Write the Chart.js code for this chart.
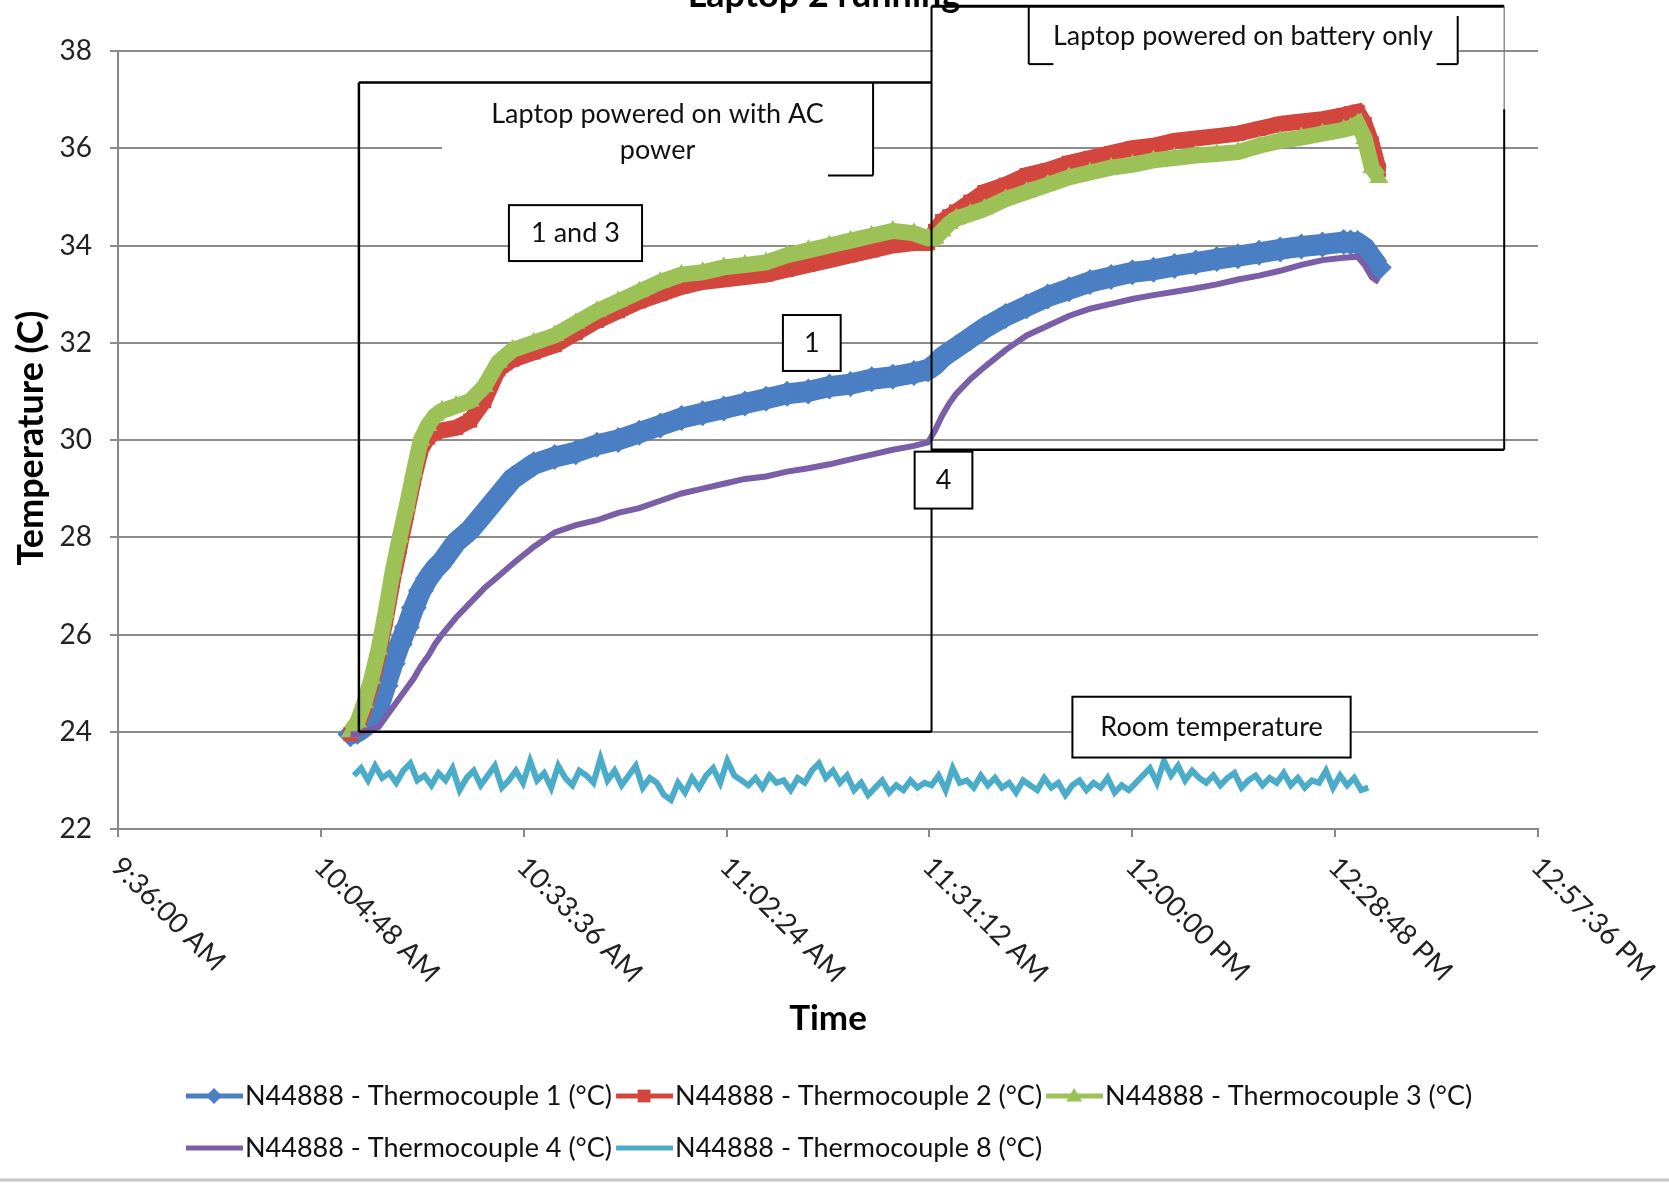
<!DOCTYPE html>
<html lang="en">
  <head>
    <meta charset="UTF-8" />
    <title>Laptop 2 running</title>
    <script src="https://cdn.jsdelivr.net/npm/chart.js"></script>
    <style>
      html, body { margin: 0; padding: 0; background: #ffffff; }
    </style>
  </head>
  <body>
    <canvas id="tempChart" width="1669" height="1185"></canvas>

    <script>
      // sample times, minutes after midnight (thermocouples 1-4)
      const times = [
        609, 610, 611, 612, 613, 614, 615, 616, 617, 618, 619, 620, 621, 622,
        624, 626, 628, 630, 632, 635, 638, 641, 644, 647, 650, 653, 656, 659,
        662, 665, 668, 671, 674, 677, 680, 683, 686, 689, 691, 692, 693, 694,
        695, 697, 699, 702, 705, 708, 711, 714, 717, 720, 723, 726, 729, 732,
        735, 738, 741, 744, 747, 750, 751, 752, 753, 754, 755
      ];

      const tc1 = [
        23.95, 24.0, 24.1, 24.3, 24.5, 24.95, 25.4, 25.8, 26.15, 26.55, 26.9, 27.15, 27.35, 27.5,
        27.9, 28.15, 28.5, 28.85, 29.2, 29.5, 29.65, 29.75, 29.9, 30.0, 30.15, 30.3, 30.45, 30.55,
        30.65, 30.75, 30.85, 30.95, 31.0, 31.1, 31.15, 31.25, 31.3, 31.38, 31.45, 31.55, 31.7, 31.8,
        31.9, 32.1, 32.3, 32.55, 32.75, 32.95, 33.1, 33.25, 33.35, 33.45, 33.5, 33.58, 33.65, 33.72,
        33.78, 33.85, 33.92, 33.98, 34.02, 34.07, 34.06, 34.05, 33.95, 33.75, 33.55
      ];

      const tc2 = [
        23.95, 24.1, 24.5, 25.0, 25.6, 26.3, 27.1, 27.8, 28.5, 29.2, 29.8, 30.05, 30.15, 30.2,
        30.25, 30.4, 30.8, 31.45, 31.65, 31.8, 31.95, 32.2, 32.45, 32.65, 32.85, 33.0, 33.15, 33.25,
        33.3, 33.35, 33.4, 33.5, 33.6, 33.7, 33.8, 33.9, 34.0, 34.05, 34.05, 34.3, 34.5, 34.6,
        34.7, 34.9, 35.1, 35.25, 35.45, 35.55, 35.7, 35.8, 35.9, 36.0, 36.05, 36.15, 36.2, 36.25,
        36.3, 36.4, 36.5, 36.55, 36.6, 36.68, 36.72, 36.75, 36.5, 36.1, 35.55
      ];

      const tc3 = [
        24.0, 24.2, 24.6, 25.1, 25.7, 26.45, 27.3, 28.0, 28.65, 29.35, 30.0, 30.3, 30.5, 30.6,
        30.7, 30.8, 31.1, 31.6, 31.85, 32.0, 32.15, 32.4, 32.65, 32.85, 33.05, 33.25, 33.4, 33.45,
        33.55, 33.6, 33.65, 33.8, 33.9, 34.0, 34.1, 34.2, 34.3, 34.25, 34.15, 34.15, 34.3, 34.45,
        34.55, 34.65, 34.75, 34.95, 35.1, 35.25, 35.4, 35.5, 35.6, 35.66, 35.75, 35.8, 35.85, 35.88,
        35.92, 36.05, 36.15, 36.22, 36.3, 36.38, 36.42, 36.5, 36.2, 35.6, 35.4
      ];

      const tc4 = [
        23.95, 23.95, 24.0, 24.05, 24.1, 24.3, 24.5, 24.7, 24.9, 25.1, 25.35, 25.55, 25.8, 26.0,
        26.35, 26.65, 26.95, 27.2, 27.45, 27.8, 28.1, 28.25, 28.35, 28.5, 28.6, 28.75, 28.9, 29.0,
        29.1, 29.2, 29.25, 29.35, 29.42, 29.5, 29.6, 29.7, 29.8, 29.88, 29.95, 30.2, 30.5, 30.75,
        30.95, 31.25, 31.5, 31.85, 32.15, 32.35, 32.55, 32.7, 32.8, 32.9, 32.98, 33.05, 33.12, 33.2,
        33.3, 33.38, 33.48, 33.6, 33.7, 33.75, 33.76, 33.77, 33.6, 33.35, 33.25
      ];

      // room temperature logger, one reading a minute from 10:09:30
      const roomStart = 609.5;
      const roomStep = 1;
      const tc8 = [
        23.1, 23.25, 23.0, 23.3, 23.05, 23.15, 22.95, 23.2, 23.35, 23.0, 23.1,
        22.9, 23.15, 23.0, 23.25, 22.8, 23.05, 23.2, 22.9, 23.1, 23.3, 22.85, 23.0,
        23.2, 22.95, 23.4, 23.0, 23.15, 22.85, 23.3, 23.05, 22.9, 23.2, 23.1, 22.95,
        23.45, 23.0, 23.2, 22.9, 23.1, 23.3, 22.85, 23.05, 22.95,
        22.7, 22.6, 22.95, 22.75, 23.05, 22.85,
        23.1, 23.25, 22.95, 23.4, 23.1, 23.0,
        22.9, 23.05, 22.85, 23.1, 22.95, 23.0, 22.8, 23.05, 22.95,
        23.2, 23.35, 23.05, 23.2, 22.95, 23.1,
        22.8, 22.95, 22.7, 22.85, 23.0, 22.75, 22.9, 22.8, 23.0, 22.85, 22.95,
        22.9, 23.1, 22.8, 23.25, 22.95, 23.0, 22.85, 23.1, 22.9, 23.05,
        22.85, 22.95, 22.75, 23.0, 22.9, 22.8, 23.05, 22.85, 22.95, 22.7, 22.9, 23.0, 22.8, 22.95, 22.85, 23.05, 22.75, 22.9, 22.8,
        22.95, 23.1, 23.25, 22.95, 23.4, 23.1, 23.3, 23.0, 23.2, 23.05,
        22.95, 23.1, 22.9, 23.05, 23.15, 22.85, 23.0, 23.1, 22.9, 23.05, 22.95, 23.15,
        22.9, 23.05, 22.85, 23.0, 22.95, 23.2, 22.85, 23.1, 22.9, 23.05, 22.8, 22.85
      ];

      const seriesNames = [
        "N44888 - Thermocouple 1 (°C)",
        "N44888 - Thermocouple 2 (°C)",
        "N44888 - Thermocouple 3 (°C)",
        "N44888 - Thermocouple 4 (°C)",
        "N44888 - Thermocouple 8 (°C)"
      ];

      // axis ranges (x in minutes after midnight)
      const xMin = 576;      // 9:36:00 AM
      const xMax = 777.6;    // 12:57:36 PM
      const xStep = 28.8;
      const yMin = 22;
      const yMax = 38;
      const yStep = 2;

      const colors = {
        tc1: "#4a7fc4",
        tc2: "#d3463e",
        tc3: "#9cc257",
        tc4: "#7a5fa8",
        tc8: "#4aacc8",
      };

      const FONT = "Lato, 'Open Sans', sans-serif";

      function clock(sec) {
        sec = Math.round(sec);
        const h = Math.floor(sec / 3600);
        const m = Math.floor((sec % 3600) / 60);
        const s = sec % 60;
        const ap = h >= 12 ? "PM" : "AM";
        const h12 = h % 12 === 0 ? 12 : h % 12;
        return h12 + ":" + String(m).padStart(2, "0") + ":" + String(s).padStart(2, "0") + " " + ap;
      }

      const toPoints = (vals) => vals.map((v, i) => ({ x: times[i] * 60, y: v }));
      const roomPoints = tc8.map((v, i) => ({ x: (roomStart + i * roomStep) * 60, y: v }));

      function drawMarker(ctx, style, cx, cy, r, color) {
        ctx.fillStyle = color;
        ctx.beginPath();
        if (style === "rectRot") {
          ctx.moveTo(cx, cy - r);
          ctx.lineTo(cx + r, cy);
          ctx.lineTo(cx, cy + r);
          ctx.lineTo(cx - r, cy);
        } else if (style === "rect") {
          ctx.rect(cx - r * 0.8, cy - r * 0.8, r * 1.6, r * 1.6);
        } else if (style === "triangle") {
          ctx.moveTo(cx, cy - r);
          ctx.lineTo(cx + r, cy + r * 0.7);
          ctx.lineTo(cx - r, cy + r * 0.7);
        }
        ctx.closePath();
        ctx.fill();
      }

      // boxes, labels, slanted time labels, legend
      const decorPlugin = {
        id: "decor",
        afterDraw(chart) {
          const { ctx, scales } = chart;
          const px = (min) => scales.x.getPixelForValue(min * 60);
          const py = (t) => scales.y.getPixelForValue(t);
          ctx.save();

          const line = (x1, y1, x2, y2, w, c) => {
            ctx.strokeStyle = c || "#000";
            ctx.lineWidth = w;
            ctx.beginPath();
            ctx.moveTo(x1, y1);
            ctx.lineTo(x2, y2);
            ctx.stroke();
          };
          const text = (str, x, y, font) => {
            ctx.font = font || "27px " + FONT;
            ctx.fillStyle = "#111";
            ctx.textAlign = "center";
            ctx.textBaseline = "middle";
            ctx.fillText(str, x, y);
          };
          const labelBox = (m1, m2, t1, t2, str) => {
            const x1 = px(m1), x2 = px(m2), y1 = py(t1), y2 = py(t2);
            ctx.fillStyle = "#fff";
            ctx.fillRect(x1, y1, x2 - x1, y2 - y1);
            ctx.strokeStyle = "#000";
            ctx.lineWidth = 2;
            ctx.strokeRect(x1, y1, x2 - x1, y2 - y1);
            text(str, (x1 + x2) / 2, (y1 + y2) / 2);
          };

          // AC power period
          const acL = px(610.2), acR = px(691.5), acT = py(37.35), acB = py(24);
          ctx.fillStyle = "#fff";
          ctx.fillRect(px(622), acT + 1, px(683.2) - px(622), py(35.44) - acT);
          line(acL, acT, acR, acT, 2.5);
          line(acL, acT, acL, acB, 2.5);
          line(acL, acB, acR, acB, 2.5);
          line(px(683.2), acT, px(683.2), py(35.44), 2);
          line(px(676.8), py(35.44), px(683.2), py(35.44), 2);
          text("Laptop powered on with AC", px(652.6), py(36.7));
          text("power", px(652.6), py(35.95));

          // battery period
          const bL = px(691.5), bR = px(772.8), bT = py(38.92), bB = py(29.8);
          ctx.fillStyle = "#fff";
          ctx.fillRect(bL + 1, bT + 2, px(766.2) - bL, py(37.73) - bT);
          line(bL, bT, bR, bT, 3);
          line(bL, bT, bL, acB, 2);
          line(bR, bT, bR, py(36.8), 1.2, "#777");
          line(bR, py(36.8), bR, bB, 2);
          line(bL, bB, bR, bB, 2.5);
          line(px(705.3), py(38.9), px(705.3), py(37.73), 2);
          line(px(705.3), py(37.73), px(708.8), py(37.73), 2);
          line(px(763.2), py(37.73), px(766.2), py(37.73), 2);
          line(px(766.2), py(38.72), px(766.2), py(37.73), 2);
          text("Laptop powered on battery only", px(735.7), py(38.31));

          labelBox(631.5, 650.4, 34.83, 33.68, "1 and 3");
          labelBox(670.4, 678.6, 32.57, 31.42, "1");
          labelBox(689.1, 697.3, 29.76, 28.59, "4");
          labelBox(711.5, 751.0, 24.72, 23.47, "Room temperature");

          // title, mostly off the top edge
          ctx.font = "bold 36px " + FONT;
          ctx.fillStyle = "#000";
          ctx.textAlign = "center";
          ctx.textBaseline = "alphabetic";
          ctx.fillText("Laptop 2 running", 824, 7);

          // slanted time labels
          ctx.font = "28px " + FONT;
          ctx.fillStyle = "#222";
          ctx.textAlign = "left";
          ctx.textBaseline = "middle";
          scales.x.ticks.forEach((tk) => {
            const tx = scales.x.getPixelForValue(tk.value);
            ctx.save();
            ctx.translate(tx - 2, 862);
            ctx.rotate(Math.PI / 4);
            ctx.fillText(clock(tk.value), 0, 0);
            ctx.restore();
          });

          // axis titles
          ctx.font = "bold 36px " + FONT;
          ctx.fillStyle = "#000";
          ctx.textAlign = "center";
          ctx.save();
          ctx.translate(31, 438);
          ctx.rotate(-Math.PI / 2);
          ctx.fillText("Temperature (C)", 0, 0);
          ctx.restore();
          ctx.font = "bold 35px " + FONT;
          ctx.fillText("Time", 828, 1019);

          // legend
          const items = [
            { name: seriesNames[0], color: colors.tc1, marker: "rectRot" },
            { name: seriesNames[1], color: colors.tc2, marker: "rect" },
            { name: seriesNames[2], color: colors.tc3, marker: "triangle" },
            { name: seriesNames[3], color: colors.tc4, marker: null },
            { name: seriesNames[4], color: colors.tc8, marker: null },
          ];
          const rows = [[0, 1, 2], [3, 4]];
          const rowY = [1096, 1148];
          ctx.font = "27px " + FONT;
          rows.forEach((row, r) => {
            let lx = 186;
            const ly = rowY[r];
            row.forEach((k) => {
              const it = items[k];
              line(lx, ly, lx + 57, ly, 5, it.color);
              if (it.marker) drawMarker(ctx, it.marker, lx + 28, ly, 8, it.color);
              ctx.fillStyle = "#111";
              ctx.textAlign = "left";
              ctx.textBaseline = "middle";
              ctx.fillText(it.name, lx + 59, ly);
              lx += 59 + ctx.measureText(it.name).width + 4;
            });
          });

          // bottom border of the picture
          line(0, 1180, 1669, 1180, 3, "#c4c4c4");
          ctx.restore();
        },
      };

      const ctx = document.getElementById("tempChart").getContext("2d");
      new Chart(ctx, {
        type: "line",
        data: {
          datasets: [
            {
              label: seriesNames[0],
              data: toPoints(tc1),
              borderColor: colors.tc1,
              backgroundColor: colors.tc1,
              borderWidth: 21,
              pointStyle: "rectRot",
              pointRadius: 13,
              pointBorderWidth: 0,
              order: 5,
            },
            {
              label: seriesNames[1],
              data: toPoints(tc2),
              borderColor: colors.tc2,
              backgroundColor: colors.tc2,
              borderWidth: 16,
              pointStyle: "rect",
              pointRadius: 10,
              pointBorderWidth: 0,
              order: 4,
            },
            {
              label: seriesNames[2],
              data: toPoints(tc3),
              borderColor: colors.tc3,
              backgroundColor: colors.tc3,
              borderWidth: 16,
              pointStyle: "triangle",
              pointRadius: 11,
              pointBorderWidth: 0,
              order: 3,
            },
            {
              label: seriesNames[3],
              data: toPoints(tc4),
              borderColor: colors.tc4,
              backgroundColor: colors.tc4,
              borderWidth: 6,
              pointRadius: 0,
              order: 2,
            },
            {
              label: seriesNames[4],
              data: roomPoints,
              borderColor: colors.tc8,
              backgroundColor: colors.tc8,
              borderWidth: 6,
              pointRadius: 0,
              order: 1,
            },
          ],
        },
        options: {
          responsive: false,
          animation: false,
          events: [],
          layout: { padding: { left: 0, top: 51, right: 131, bottom: 0 } },
          plugins: {
            legend: { display: false },
            tooltip: { enabled: false },
          },
          scales: {
            x: {
              type: "linear",
              min: xMin * 60,
              max: xMax * 60,
              ticks: { stepSize: xStep * 60, display: false },
              grid: { drawOnChartArea: false, drawTicks: true, tickLength: 8, color: "#888", lineWidth: 2 },
              border: { color: "#888", width: 2 },
              afterFit(scale) { scale.height = 356; },
            },
            y: {
              min: yMin,
              max: yMax,
              ticks: {
                stepSize: yStep,
                padding: 18,
                color: "#222",
                font: { family: FONT, size: 28 },
              },
              grid: { color: "#8c8c8c", lineWidth: 2, tickLength: 8 },
              border: { color: "#888", width: 2 },
              afterFit(scale) { scale.width = 118; },
            },
          },
        },
        plugins: [decorPlugin],
      });
    </script>
  </body>
</html>
